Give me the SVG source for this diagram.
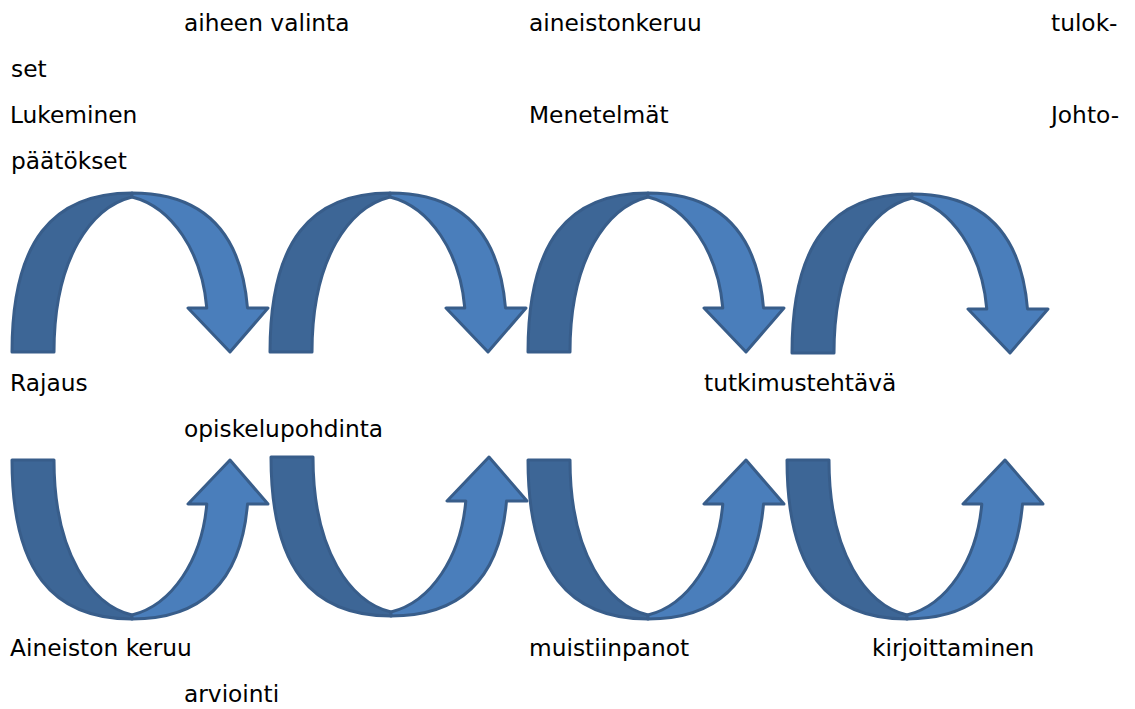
<svg xmlns="http://www.w3.org/2000/svg" xmlns:xlink="http://www.w3.org/1999/xlink" width="1135" height="709" viewBox="0 0 1135 709">
<style>
.t{font-family:"DejaVu Sans","Liberation Sans",sans-serif;font-size:23.3px;fill:#000}
.dk{fill:#3D6696;stroke:#385D8A;stroke-width:3;stroke-linejoin:round}
.lt{fill:#4A7EBB;stroke:#385D8A;stroke-width:3;stroke-linejoin:round}
</style>
<defs>
<g id="arc">
<path class="dk" d="M0,0 C0,-110 40,-159 120,-159 L120,-155 C80,-145 42,-95 42,0 Z"/>
<path class="lt" d="M120,-159 C200,-159 230,-110 235.5,-44 L256,-44 L218,0 L176,-44 L194.8,-44 C190,-100 160,-145 120,-155 Z"/>
</g>
</defs>
<rect width="1135" height="709" fill="#fff"/>
<g id="connectors">
<g id="top1"><use xlink:href="#arc" href="#arc" transform="translate(12,352)"/></g>
<g id="top2"><use xlink:href="#arc" href="#arc" transform="translate(270,352)"/></g>
<g id="top3"><use xlink:href="#arc" href="#arc" transform="translate(528,352)"/></g>
<g id="top4"><use xlink:href="#arc" href="#arc" transform="translate(792,353)"/></g>
<g id="bot1"><use xlink:href="#arc" href="#arc" transform="translate(12,460) scale(1,-1)"/></g>
<g id="bot2"><use xlink:href="#arc" href="#arc" transform="translate(271,457) scale(1,-1)"/></g>
<g id="bot3"><use xlink:href="#arc" href="#arc" transform="translate(528,460) scale(1,-1)"/></g>
<g id="bot4"><use xlink:href="#arc" href="#arc" transform="translate(787,460) scale(1,-1)"/></g>
</g>
<g id="labels">
<text class="t" x="184" y="31">aiheen valinta</text>
<text class="t" x="529" y="31">aineistonkeruu</text>
<text class="t" x="1051" y="31">tulok-</text>
<text class="t" x="11" y="77">set</text>
<text class="t" x="10" y="123">Lukeminen</text>
<text class="t" x="529" y="123">Menetelmät</text>
<text class="t" x="1051" y="123">Johto-</text>
<text class="t" x="11" y="169">päätökset</text>
<text class="t" x="10" y="391">Rajaus</text>
<text class="t" x="704" y="391">tutkimustehtävä</text>
<text class="t" x="184" y="437">opiskelupohdinta</text>
<text class="t" x="10" y="656">Aineiston keruu</text>
<text class="t" x="529" y="656">muistiinpanot</text>
<text class="t" x="872" y="656">kirjoittaminen</text>
<text class="t" x="184" y="702">arviointi</text>
</g>
</svg>
